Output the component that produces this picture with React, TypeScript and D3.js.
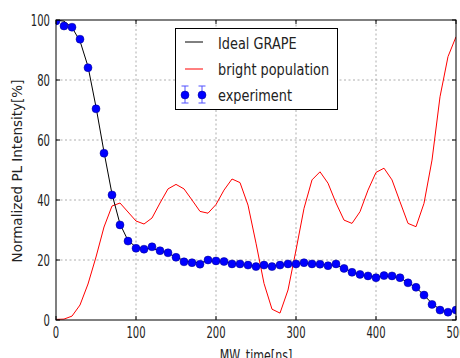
import React from "react";
import * as d3 from "d3";

// MW time in ns, one sample every 10 ns
const times = d3.range(0, 501, 10);

const idealGrape = [
  100, 99.6, 97.5, 93, 84.5, 71, 56, 42, 32, 26.5, 24.3, 23.8, 23.8, 23.2, 22.2, 21, 19.8,
  19.2, 19.2, 19.6, 19.7, 19.5, 19, 18.6, 18.3, 18, 18, 18, 18.3, 18.6, 18.8, 19, 18.8,
  18.6, 18.4, 18.2, 17.3, 16, 15.2, 14.7, 14.4, 14.5, 14.5, 14, 12.5, 10.8, 8.3, 5.5, 3.5,
  2.6, 3.2,
];

const brightPopulation = [
  0.2, 0.3, 1.3, 5, 12, 21, 31, 38, 39, 36, 33, 32, 34, 39, 43.7, 45.2, 43.7, 40, 36.2,
  35.6, 38.5, 43.3, 47, 45.8, 38.3, 25.6, 12.2, 3.6, 2.3, 10, 23.3, 37.2, 46.7, 49.4, 45.6,
  39, 33.3, 32.2, 36.1, 43.3, 49.2, 50.6, 46.7, 39.4, 32.2, 31.1, 38.9, 53.3, 74.4, 87.8,
  94.4,
];

const experiment = [
  99.7, 98, 97.6, 93.6, 84.1, 70.4, 55.6, 41.7, 31.7, 26.3, 23.9, 23.6, 24.4, 23.1, 22.4,
  20.9, 19.4, 19.1, 18.6, 20, 19.7, 19.5, 18.7, 18.7, 18.3, 17.8, 18.3, 17.8, 18.3, 18.7,
  18.7, 19.1, 18.7, 18.6, 18.1, 18.7, 17.2, 15.9, 15.2, 14.7, 14.1, 14.8, 14.7, 14.1, 12.4,
  10.9, 8.3, 5.2, 3.3, 2.6, 3.3,
];

const xTicks = [0, 100, 200, 300, 400, 500];
const yTicks = [0, 20, 40, 60, 80, 100];
const legendLabels = ["Ideal GRAPE", "bright population", "experiment"];

const W = 460;
const H = 358;
const plot = { left: 56, top: 20, right: 456, bottom: 320 };
const FONT = "DejaVu Sans, sans-serif";

export default function App() {
  const x = d3.scaleLinear().domain([0, 500]).range([plot.left, plot.right]);
  const y = d3.scaleLinear().domain([0, 100]).range([plot.bottom, plot.top]);

  const line = d3
    .line<number>()
    .x((_, i) => x(times[i]))
    .y((d) => y(d));

  const tickLen = 4;

  return (
    <svg
      width={W}
      height={H}
      style={{ position: "absolute", left: 0, top: 0, background: "#fff" }}
    >
      <defs>
        <clipPath id="plotClip">
          <rect
            x={plot.left}
            y={plot.top}
            width={plot.right - plot.left}
            height={plot.bottom - plot.top}
          />
        </clipPath>
      </defs>

      {/* grid */}
      <g stroke="#999" strokeWidth={0.8} strokeDasharray="2,2.5">
        {xTicks.slice(1, -1).map((t) => (
          <line key={"gx" + t} x1={x(t)} x2={x(t)} y1={plot.top} y2={plot.bottom} />
        ))}
        {yTicks.slice(1, -1).map((t) => (
          <line key={"gy" + t} x1={plot.left} x2={plot.right} y1={y(t)} y2={y(t)} />
        ))}
      </g>

      <g clipPath="url(#plotClip)">
        <path d={line(brightPopulation) || ""} fill="none" stroke="#ff0000" strokeWidth={1} />
        <path d={line(idealGrape) || ""} fill="none" stroke="#000" strokeWidth={1} />
        {experiment.map((v, i) => (
          <circle
            key={i}
            cx={x(times[i])}
            cy={y(v)}
            r={4}
            fill="#0000ff"
            stroke="#00008b"
            strokeWidth={0.5}
          />
        ))}
      </g>

      {/* frame and inward ticks */}
      <rect
        x={plot.left}
        y={plot.top}
        width={plot.right - plot.left}
        height={plot.bottom - plot.top}
        fill="none"
        stroke="#000"
        strokeWidth={1}
      />
      <g stroke="#000" strokeWidth={1}>
        {xTicks.map((t) => (
          <g key={"tx" + t}>
            <line x1={x(t)} x2={x(t)} y1={plot.bottom} y2={plot.bottom - tickLen} />
            <line x1={x(t)} x2={x(t)} y1={plot.top} y2={plot.top + tickLen} />
          </g>
        ))}
        {yTicks.map((t) => (
          <g key={"ty" + t}>
            <line x1={plot.left} x2={plot.left + tickLen} y1={y(t)} y2={y(t)} />
            <line x1={plot.right} x2={plot.right - tickLen} y1={y(t)} y2={y(t)} />
          </g>
        ))}
      </g>

      {/* tick labels */}
      <g fontFamily={FONT} fontSize={15} fill="#222">
        {xTicks.map((t) => (
          <text
            key={"lx" + t}
            transform={`translate(${x(t)},${plot.bottom + 18}) scale(0.67,1)`}
            textAnchor="middle"
          >
            {t}
          </text>
        ))}
        {yTicks.map((t) => (
          <text
            key={"ly" + t}
            transform={`translate(${plot.left - 6},${y(t) + 5.5}) scale(0.67,1)`}
            textAnchor="end"
          >
            {t}
          </text>
        ))}
      </g>

      {/* axis labels */}
      <text
        transform={`translate(${(plot.left + plot.right) / 2},361) scale(0.74,1)`}
        textAnchor="middle"
        fontFamily={FONT}
        fontSize={15}
        fill="#222"
      >
        MW_time[ns]
      </text>
      <text
        transform={`translate(22,171) rotate(-90)`}
        textAnchor="middle"
        fontFamily={FONT}
        fontSize={13.5}
        fill="#222"
      >
        Normalized PL Intensity[%]
      </text>

      {/* legend */}
      <g>
        <rect x={175.5} y={28.5} width={162} height={81} fill="#fff" stroke="#000" strokeWidth={1} />
        <line x1={185} x2={203} y1={42} y2={42} stroke="#000" strokeWidth={1} />
        <line x1={185} x2={203} y1={69} y2={69} stroke="#ff0000" strokeWidth={1} />
        {[185, 202].map((cx) => (
          <g key={"lg" + cx}>
            <g stroke="#5050ff" strokeWidth={1}>
              <line x1={cx} x2={cx} y1={86} y2={103} />
              <line x1={cx - 3.5} x2={cx + 3.5} y1={86} y2={86} />
              <line x1={cx - 3.5} x2={cx + 3.5} y1={103} y2={103} />
            </g>
            <circle cx={cx} cy={95} r={4} fill="#0000ff" stroke="#00008b" strokeWidth={0.5} />
          </g>
        ))}
        {legendLabels.map((label, i) => (
          <text
            key={label}
            transform={`translate(218,${49 + i * 26}) scale(0.86,1)`}
            fontFamily={FONT}
            fontSize={15}
            fill="#222"
          >
            {label}
          </text>
        ))}
      </g>
    </svg>
  );
}
